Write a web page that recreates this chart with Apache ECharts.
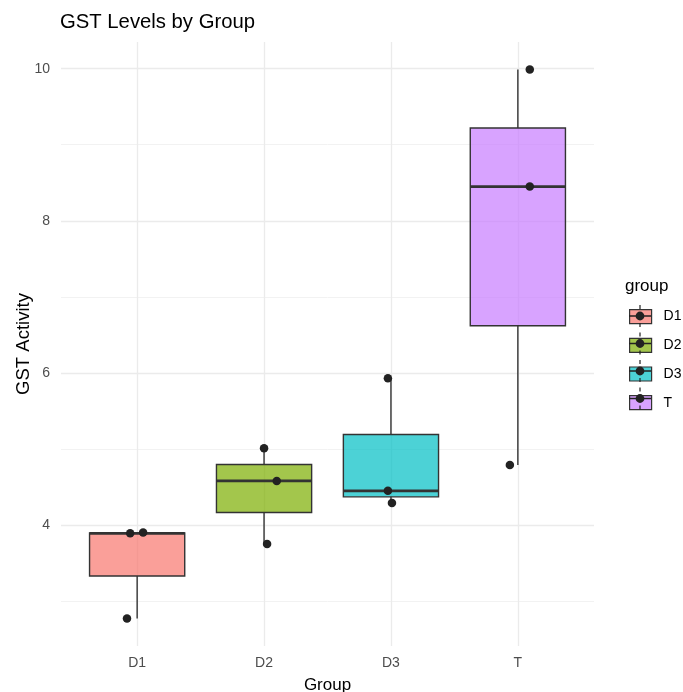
<!DOCTYPE html>
<html>
<head>
<meta charset="utf-8">
<title>GST Levels by Group</title>
<script src="https://cdn.jsdelivr.net/npm/echarts@6/dist/echarts.min.js"></script>
<style>
  html, body { margin: 0; padding: 0; background: #fff; }
  #chart { width: 683px; height: 692px; }
</style>
</head>
<body>
<div id="chart"></div>
<script>
// groups on the x axis
const groups = ['D1', 'D2', 'D3', 'T'];

// GST activity per group
const valuesD1 = [3.89, 3.90, 2.77];
const valuesD2 = [5.01, 4.58, 3.75];
const valuesD3 = [5.93, 4.45, 4.29];
const valuesT = [9.99, 8.45, 4.79];

// horizontal jitter of each point, in category units
const jitterD1 = [-0.055, 0.047, -0.08];
const jitterD2 = [0.0, 0.10, 0.024];
const jitterD3 = [-0.024, -0.024, 0.008];
const jitterT = [0.094, 0.094, -0.063];

const groupValues = [valuesD1, valuesD2, valuesD3, valuesT];
const groupJitter = [jitterD1, jitterD2, jitterD3, jitterT];

// ggplot default hues, drawn at alpha 0.7
const fills = ['rgba(248,118,109,0.7)', 'rgba(124,174,0,0.7)', 'rgba(0,191,196,0.7)', 'rgba(199,124,255,0.7)'];

const FONT = '"Liberation Sans", Arial, sans-serif';
const BOX_WIDTH = 0.75;

// quantile type 7 (R default)
function quantile(arr, p) {
  const s = [...arr].sort((a, b) => a - b);
  const h = (s.length - 1) * p;
  const lo = Math.floor(h);
  const next = lo + 1 < s.length ? s[lo + 1] : s[lo];
  return s[lo] + (h - lo) * (next - s[lo]);
}

// box statistics like geom_boxplot: whiskers to the last point inside 1.5 IQR
function boxStats(arr, idx) {
  const q1 = quantile(arr, 0.25);
  const med = quantile(arr, 0.5);
  const q3 = quantile(arr, 0.75);
  const iqr = q3 - q1;
  const inside = arr.filter(v => v >= q1 - 1.5 * iqr && v <= q3 + 1.5 * iqr);
  return [idx, Math.min(...inside), q1, med, q3, Math.max(...inside)];
}

// y range with the 5% expansion of ggplot
const allValues = groupValues.flat();
const yLo = Math.min(...allValues);
const yHi = Math.max(...allValues);
const yPad = (yHi - yLo) * 0.05;

function renderBox(params, api) {
  const x = api.value(0);
  const lo = api.value(1), q1 = api.value(2), med = api.value(3), q3 = api.value(4), hi = api.value(5);
  const half = BOX_WIDTH / 2;
  const tl = api.coord([x - half, q3]);
  const br = api.coord([x + half, q1]);
  const mL = api.coord([x - half, med]);
  const mR = api.coord([x + half, med]);
  const pHi = api.coord([x, hi]);
  const pQ3 = api.coord([x, q3]);
  const pQ1 = api.coord([x, q1]);
  const pLo = api.coord([x, lo]);
  const stroke = '#333333';
  return {
    type: 'group',
    children: [
      { type: 'line', shape: { x1: pHi[0], y1: pHi[1], x2: pQ3[0], y2: pQ3[1] }, style: { stroke: stroke, lineWidth: 1.4 } },
      { type: 'line', shape: { x1: pQ1[0], y1: pQ1[1], x2: pLo[0], y2: pLo[1] }, style: { stroke: stroke, lineWidth: 1.4 } },
      { type: 'rect', shape: { x: tl[0], y: tl[1], width: br[0] - tl[0], height: br[1] - tl[1] },
        style: { fill: api.visual('color'), stroke: stroke, lineWidth: 1.4 } },
      { type: 'line', shape: { x1: mL[0], y1: mL[1], x2: mR[0], y2: mR[1] }, style: { stroke: stroke, lineWidth: 2.8 } }
    ]
  };
}

const boxSeries = groups.map((g, i) => ({
  name: g,
  type: 'custom',
  renderItem: renderBox,
  itemStyle: { color: fills[i] },
  encode: { x: 0, y: [1, 2, 3, 4, 5] },
  data: [boxStats(groupValues[i], i)],
  silent: true,
  z: 2
}));

const pointSeries = groups.map((g, i) => ({
  name: g + ' points',
  type: 'scatter',
  symbolSize: 8.5,
  itemStyle: { color: '#222222', opacity: 1 },
  data: groupValues[i].map((v, k) => [i + groupJitter[i][k], v]),
  silent: true,
  z: 3
}));

const chart = echarts.init(document.getElementById('chart'));

chart.setOption({
  backgroundColor: '#ffffff',
  animation: false,
  textStyle: { fontFamily: FONT },
  title: [
    { text: 'GST Levels by Group', left: 60, top: 12, padding: 0,
      textStyle: { fontFamily: FONT, fontSize: 20.3, fontWeight: 'normal', color: '#000' } },
    { text: 'group', left: 625, top: 278, padding: 0,
      textStyle: { fontFamily: FONT, fontSize: 17, fontWeight: 'normal', color: '#000' } }
  ],
  legend: [
    {
      data: groups,
      orient: 'vertical',
      left: 629,
      top: 309,
      padding: 0,
      icon: 'rect',
      itemWidth: 22,
      itemHeight: 14,
      itemGap: 13.5,
      selectedMode: false,
      itemStyle: { borderColor: '#333333', borderWidth: 1.2 },
      textStyle: { fontFamily: FONT, fontSize: 14, lineHeight: 14, color: '#000', padding: [0, 0, 0, 7] }
    },
    {
      data: groups.map(g => g + ' points'),
      orient: 'vertical',
      left: 629,
      top: 305,
      padding: 0,
      z: 5,
      icon: 'path://M10.4 0H11.6V4H10.4Z M10.4 18H11.6V22H10.4Z M0 10.2H22V11.8H0Z M11 6.6A4.4 4.4 0 1 1 11 15.4A4.4 4.4 0 1 1 11 6.6Z',
      itemWidth: 22,
      itemHeight: 22,
      itemGap: 5.5,
      selectedMode: false,
      formatter: () => '',
      textStyle: { fontSize: 14, lineHeight: 14 }
    }
  ],
  grid: { left: 61, right: 89, top: 42, bottom: 46, containLabel: false, outerBoundsMode: 'none' },
  xAxis: {
    type: 'value',
    min: -0.6,
    max: groups.length - 1 + 0.6,
    splitNumber: 4,
    axisLine: { show: false },
    axisTick: { show: false },
    axisLabel: {
      color: '#4D4D4D', fontSize: 14, fontFamily: FONT, margin: 10,
      showMinLabel: false, showMaxLabel: false,
      formatter: v => {
        const i = Math.round(v);
        return Math.abs(v - i) < 1e-6 && groups[i] ? groups[i] : '';
      }
    },
    splitLine: { show: true, showMinLine: false, showMaxLine: false, lineStyle: { color: '#EBEBEB', width: 1.3 } },
    name: 'Group',
    nameLocation: 'middle',
    nameGap: 31,
    nameMoveOverlap: false,
    nameTextStyle: { fontFamily: FONT, fontSize: 17, color: '#000' }
  },
  yAxis: {
    type: 'value',
    min: yLo - yPad,
    max: yHi + yPad,
    axisLine: { show: false },
    axisTick: { show: false },
    axisLabel: {
      color: '#4D4D4D', fontSize: 14, fontFamily: FONT, margin: 11,
      showMinLabel: false, showMaxLabel: false,
      formatter: v => (Number.isInteger(v) ? String(v) : '')
    },
    splitLine: { show: true, showMinLine: false, showMaxLine: false, lineStyle: { color: '#EBEBEB', width: 1.3 } },
    minorTick: { show: false, splitNumber: 2 },
    minorSplitLine: { show: true, lineStyle: { color: '#F0F0F0', width: 0.9 } },
    name: 'GST Activity',
    nameLocation: 'middle',
    nameGap: 28,
    nameMoveOverlap: false,
    nameTextStyle: { fontFamily: FONT, fontSize: 18.5, color: '#000' }
  },
  series: [...boxSeries, ...pointSeries]
});
</script>
</body>
</html>
